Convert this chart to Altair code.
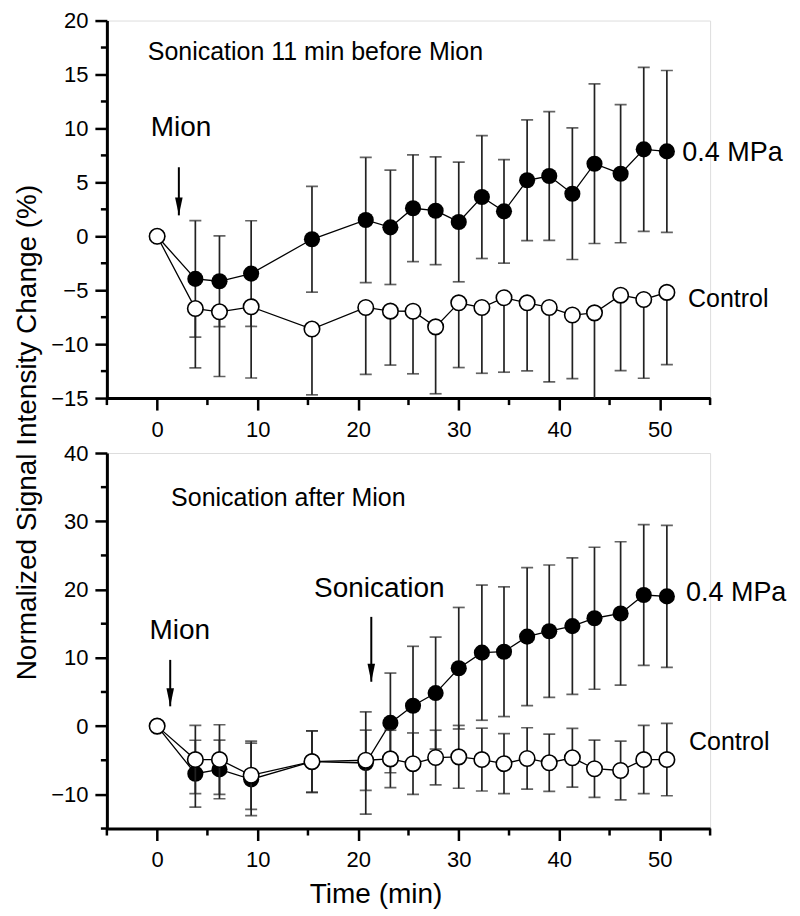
import altair as alt
import pandas as pd

# ---------------- data ----------------
time_min = [0, 3.8, 6.2, 9.35, 15.4, 20.75, 23.2, 25.45, 27.7, 30.0, 32.3,
            34.5, 36.8, 39.0, 41.3, 43.5, 46.1, 48.4, 50.7]

# top panel: sonication 11 min before Mion
top_mpa = [0, -3.95, -4.17, -3.46, -0.28, 1.51, 0.83, 2.6, 2.37, 1.33, 3.64,
           2.31, 5.19, 5.59, 3.95, 6.73, 5.8, 8.06, 7.87]
top_mpa_err = [0, 5.4, 4.2, 4.9, 4.9, 5.8, 5.3, 4.95, 5.0, 5.55, 5.7,
               4.8, 5.6, 5.96, 6.1, 7.4, 6.4, 7.6, 7.5]
top_ctrl = [0, -6.7, -7.0, -6.54, -8.6, -6.6, -6.94, -6.95, -8.4, -6.17, -6.6,
            -5.7, -6.17, -6.6, -7.3, -7.1, -5.46, -5.86, -5.2]
top_ctrl_err = [0, 5.5, 6.0, 6.6, 6.1, 6.2, 5.0, 5.8, 6.2, 6.0, 6.1,
                6.9, 6.3, 6.9, 5.9, 9.0, 7.0, 7.3, 6.7]

# bottom panel: sonication after Mion
bot_mpa = [0, -6.97, -6.34, -7.8, -5.2, -5.4, 0.47, 2.99, 4.84, 8.48, 10.76,
           10.9, 13.1, 13.9, 14.65, 15.8, 16.5, 19.2, 19.0]
bot_mpa_err = [0, 4.9, 4.3, 5.3, 4.5, 7.5, 7.3, 8.7, 8.2, 8.9, 9.9,
               9.5, 10.1, 9.7, 10.0, 10.4, 10.5, 10.3, 10.4]
bot_ctrl = [0, -4.9, -4.9, -7.2, -5.2, -5.0, -4.8, -5.5, -4.6, -4.5, -4.9,
            -5.5, -4.74, -5.37, -4.64, -6.24, -6.5, -4.9, -4.9]
bot_ctrl_err = [0, 5.0, 5.1, 5.0, 4.5, 4.4, 4.2, 4.5, 4.0, 4.6, 4.6,
                4.4, 4.5, 4.2, 4.3, 4.2, 4.3, 5.0, 5.3]

# axis ticks
x_major = [0, 10, 20, 30, 40, 50]
x_minor = [-5, 5, 15, 25, 35, 45, 55]
top_y_major = [-15, -10, -5, 0, 5, 10, 15, 20]
top_y_minor = [-12.5, -7.5, -2.5, 2.5, 7.5, 12.5, 17.5]
bot_y_major = [-10, 0, 10, 20, 30, 40]
bot_y_minor = [-15, -5, 5, 15, 25, 35]

# annotations (data coordinates)
top_labels = ["Sonication 11 min before Mion", "Mion", "0.4 MPa", "Control"]
top_label_t = [-0.93, -0.63, 52.24, 52.8]
top_label_v = [16.36, 9.29, 6.97, -6.6]
top_arrow_t = [2.16]
top_arrow_from = [6.4]
top_arrow_to = [1.94]

bot_labels = ["Sonication after Mion", "Mion", "Sonication", "0.4 MPa", "Control"]
bot_label_t = [1.39, -0.76, 15.6, 52.6, 52.9]
bot_label_v = [32.3, 12.7, 18.9, 18.3, -3.5]
bot_arrow_t = [1.3, 21.3]
bot_arrow_from = [9.7, 16.0]
bot_arrow_to = [2.9, 6.5]

y_title = "Normalized Signal Intensity Change (%)"
x_title = "Time (min)"

# ---------------- styling ----------------
FONT = "Liberation Sans"
LABEL_SIZE = {"Sonication 11 min before Mion": 25, "Sonication after Mion": 25,
              "Mion": 28, "Sonication": 28, "0.4 MPa": 27, "Control": 25}
BAR_COLOR = "#222222"
DOMAIN_W = 3
TICK_W = 2.5
W = 604


def frame(vals, errs, lower_only):
    rows = []
    for t, v, e in zip(time_min, vals, errs):
        rows.append(dict(t=t, v=v, e=e, lo=v - e, hi=(v if lower_only else v + e)))
    return pd.DataFrame(rows)


def caps(df, lower_only):
    d = df[df.e > 0]
    rows = [dict(t=r.t, c=r.lo) for r in d.itertuples()]
    if not lower_only:
        rows += [dict(t=r.t, c=r.hi) for r in d.itertuples()]
    return pd.DataFrame(rows)


def panel(mpa, mpa_err, ctrl, ctrl_err, ctrl_lower, labels, lt, lv,
          at, af, ato, ydom, y_major, y_minor, height, xtitle, ytitle):
    xscale = alt.Scale(domain=[-5, 55], nice=False, zero=False)
    yscale = alt.Scale(domain=ydom, nice=False, zero=False)
    common = dict(grid=False, domainColor="black", domainWidth=DOMAIN_W, tickColor="black",
                  tickWidth=TICK_W, tickSize=12, labelFont=FONT, labelFontSize=22,
                  labelColor="black", labelOverlap=False, labelFlush=False)
    xaxis_kw = dict(values=x_major, labelBaseline="alphabetic", labelPadding=26, **common)
    if xtitle:
        xaxis = alt.Axis(title=xtitle, titleFont=FONT, titleFontSize=28, titleFontWeight="normal",
                         titleColor="black", titleX=269, titleY=74, titleBaseline="alphabetic",
                         titleAlign="center", **xaxis_kw)
    else:
        xaxis = alt.Axis(title=None, **xaxis_kw)
    yaxis_kw = dict(values=y_major, labelPadding=7, **common)
    if ytitle:
        yaxis = alt.Axis(title=ytitle, titleFont=FONT, titleFontSize=28, titleFontWeight="normal",
                         titleColor="black", titleX=-71, titleY=412, titleBaseline="alphabetic",
                         titleAlign="center", titleAngle=270, **yaxis_kw)
    else:
        yaxis = alt.Axis(title=None, **yaxis_kw)

    def X(f):
        return alt.X(f"{f}:Q", scale=xscale, axis=xaxis)

    def Y(f):
        return alt.Y(f"{f}:Q", scale=yscale, axis=yaxis)

    dm = frame(mpa, mpa_err, False)
    dc = frame(ctrl, ctrl_err, ctrl_lower)
    cm = caps(dm, False)
    cc = caps(dc, ctrl_lower)

    layers = []
    # minor ticks (outside the plot area)
    layers.append(alt.Chart(pd.DataFrame(dict(t=x_minor))).mark_rule(color="black", strokeWidth=TICK_W)
                  .encode(x=X("t"), y=alt.value(height), y2=alt.value(height + 7)))
    layers.append(alt.Chart(pd.DataFrame(dict(v=y_minor))).mark_rule(color="black", strokeWidth=TICK_W)
                  .encode(y=Y("v"), x=alt.value(0), x2=alt.value(-6)))
    for d in (dm, dc):
        layers.append(alt.Chart(d).mark_line(color="black", strokeWidth=1.3)
                      .encode(x=X("t"), y=Y("v")))
    for d, c, filled in ((dm, cm, True), (dc, cc, False)):
        layers.append(alt.Chart(d[d.e > 0]).mark_rule(color=BAR_COLOR, strokeWidth=1.7, clip=True)
                      .encode(x=X("t"), y=Y("lo"), y2="hi:Q"))
        layers.append(alt.Chart(c).mark_tick(orient="horizontal", size=12, thickness=1.7,
                                             color=BAR_COLOR, clip=True)
                      .encode(x=X("t"), y=Y("c")))
        if filled:
            layers.append(alt.Chart(d).mark_point(shape="circle", filled=True, size=260,
                                                  color="black", opacity=1)
                          .encode(x=X("t"), y=Y("v")))
        else:
            layers.append(alt.Chart(d).mark_point(shape="circle", filled=True, size=240,
                                                  fill="white", stroke="black",
                                                  strokeWidth=1.6, opacity=1)
                          .encode(x=X("t"), y=Y("v")))
    # arrows
    da = pd.DataFrame(dict(t=at, y0=af, y1=ato))
    layers.append(alt.Chart(da).mark_rule(color="black", strokeWidth=2)
                  .encode(x=X("t"), y=Y("y0"), y2="y1:Q"))
    layers.append(alt.Chart(da).mark_point(shape="M-0.42,-2L0.42,-2L0,0Z", size=324,
                                           filled=True, color="black", opacity=1)
                  .encode(x=X("t"), y=Y("y1")))
    # labels
    for txt, t, v in zip(labels, lt, lv):
        dl = pd.DataFrame(dict(t=[t], v=[v], label=[txt]))
        layers.append(alt.Chart(dl).mark_text(align="left", baseline="alphabetic", font=FONT,
                                              fontSize=LABEL_SIZE[txt], color="black")
                      .encode(x=X("t"), y=Y("v"), text="label:N"))
    return alt.layer(*layers).properties(width=W, height=height)


top = panel(top_mpa, top_mpa_err, top_ctrl, top_ctrl_err, True,
            top_labels, top_label_t, top_label_v,
            top_arrow_t, top_arrow_from, top_arrow_to,
            [-15, 20], top_y_major, top_y_minor, 378, None, y_title)
bottom = panel(bot_mpa, bot_mpa_err, bot_ctrl, bot_ctrl_err, False,
               bot_labels, bot_label_t, bot_label_v,
               bot_arrow_t, bot_arrow_from, bot_arrow_to,
               [-15, 40], bot_y_major, bot_y_minor, 376, x_title, None)

chart = alt.vconcat(top, bottom, spacing=55, bounds="flush").properties(
    padding={"left": 5, "top": 0, "right": 5, "bottom": 5}
).configure_view(stroke="transparent").configure(background="white")

chart.save("out.html", embed_options={"renderer": "svg", "actions": False})
